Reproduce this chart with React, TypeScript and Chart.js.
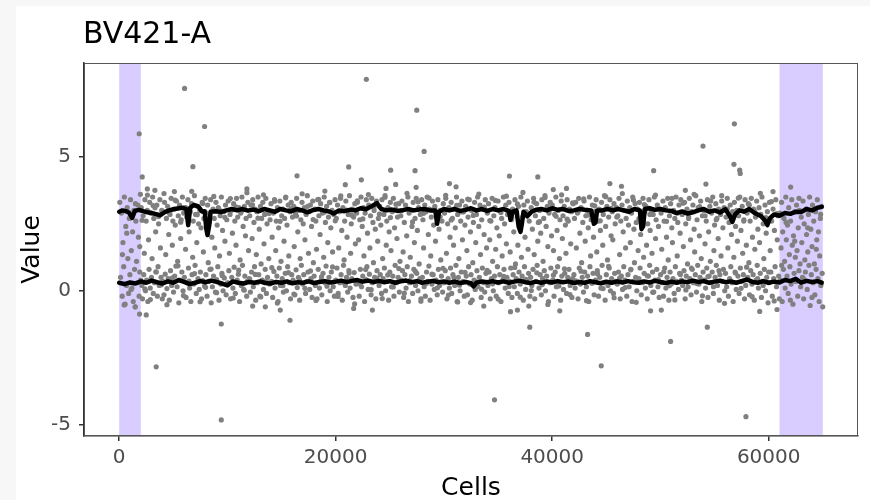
import React, { useEffect, useRef } from "react";
import { Chart, registerables } from "chart.js";

Chart.register(...registerables);

const titleText = "BV421-A";
const xAxisLabel = "Cells";
const yAxisLabel = "Value";
const xTickValues = [0, 20000, 40000, 60000];
const yTickValues = [-5, 0, 5];
const bandStarts = [0, 61000];
const bandEnds = [2000, 65000];

const upperLine: [number, number][] = [
  [0,2.95],[300,3.0],[600,2.97],[900,2.92],[1200,2.72],[1450,2.98],[1800,3.02],[2200,2.97],[2600,2.93],[3000,2.9],[3400,2.86],[3800,2.82],[4200,2.93],[4600,3.0],[5000,3.04],[5400,3.07],[5800,3.1],[6200,3.05],[6380,2.45],[6560,3.1],[6900,3.2],[7300,3.15],[7650,2.96],[7900,2.97],[8050,2.3],[8160,2.08],[8300,2.4],[8450,2.95],[8900,2.97],[9400,2.94],[9900,3.0],[10400,3.05],[10900,3.0],[11400,3.05],[11900,2.99],[12400,3.03],[12900,2.97],[13400,3.05],[13900,3.0],[14400,2.95],[14900,3.05],[15400,3.0],[15900,2.97],[16400,3.05],[16900,3.0],[17400,2.93],[17900,3.01],[18400,3.05],[18900,3.0],[19400,2.96],[19800,2.88],[20300,3.0],[20800,2.97],[21300,3.02],[21800,3.0],[22300,3.08],[22800,3.04],[23300,3.15],[23800,3.27],[24200,3.05],[24700,3.0],[25200,3.03],[25700,2.98],[26200,3.01],[26700,3.05],[27200,3.0],[27700,3.03],[28200,3.05],[28700,3.0],[29200,3.0],[29370,2.5],[29550,2.95],[30000,3.05],[30500,3.0],[31000,3.05],[31500,2.98],[32000,3.02],[32500,3.08],[33000,3.0],[33500,3.05],[34000,2.98],[34500,3.05],[35000,3.0],[35500,3.05],[36000,2.98],[36150,2.65],[36350,2.95],[36700,3.0],[36900,2.4],[37070,2.2],[37200,2.5],[37350,2.95],[37700,2.78],[38100,2.95],[38500,3.02],[39000,3.05],[39500,3.0],[40000,3.08],[40500,3.02],[41000,3.05],[41500,2.98],[42000,3.0],[42500,3.05],[43000,3.02],[43600,3.0],[43850,2.5],[44000,2.55],[44150,3.0],[44600,3.0],[45100,3.05],[45600,3.0],[46100,3.05],[46600,3.0],[47100,2.95],[47600,3.05],[48100,3.0],[48250,2.3],[48400,2.4],[48550,3.05],[49000,3.08],[49500,3.02],[50000,3.05],[50500,3.0],[51000,2.98],[51500,2.9],[52000,2.96],[52500,2.88],[53000,2.93],[53500,3.0],[54000,3.05],[54500,2.95],[55000,3.0],[55500,2.92],[56000,3.04],[56400,2.8],[56640,2.57],[56900,2.85],[57300,3.0],[57700,2.95],[58200,3.05],[58700,2.9],[59300,2.78],[59700,2.6],[59880,2.45],[60100,2.7],[60500,2.85],[61000,2.8],[61500,2.9],[62000,2.87],[62500,2.95],[63000,2.94],[63500,3.05],[64000,3.0],[64500,3.1],[64900,3.13]
];

const lowerLine: [number, number][] = [
  [0,0.3],[500,0.25],[1000,0.31],[1500,0.27],[2000,0.35],[2500,0.3],[3000,0.38],[3500,0.32],[4000,0.27],[4500,0.35],[5000,0.3],[5500,0.4],[6000,0.33],[6500,0.25],[7000,0.3],[7500,0.36],[8000,0.32],[8500,0.38],[9000,0.33],[9500,0.27],[10000,0.2],[10500,0.35],[11000,0.3],[11500,0.27],[12000,0.33],[12500,0.3],[13000,0.35],[13500,0.29],[14000,0.27],[14500,0.33],[15000,0.3],[15500,0.35],[16000,0.28],[16500,0.32],[17000,0.3],[17500,0.35],[18000,0.29],[18500,0.33],[19000,0.36],[19500,0.31],[20000,0.34],[20500,0.38],[21000,0.33],[21500,0.37],[22000,0.4],[22500,0.34],[23000,0.38],[23500,0.33],[24000,0.37],[24500,0.32],[25000,0.36],[25500,0.3],[26000,0.35],[26500,0.38],[27000,0.32],[27500,0.36],[28000,0.3],[28500,0.34],[29000,0.37],[29500,0.32],[30000,0.35],[30500,0.3],[31000,0.34],[31500,0.29],[32000,0.33],[32500,0.28],[32730,0.16],[33000,0.3],[33500,0.35],[34000,0.32],[34500,0.36],[35000,0.31],[35500,0.35],[36000,0.3],[36500,0.34],[37000,0.38],[37500,0.32],[38000,0.29],[38500,0.34],[39000,0.3],[39500,0.35],[40000,0.31],[40500,0.36],[41000,0.32],[41500,0.35],[42000,0.29],[42500,0.33],[43000,0.3],[43500,0.36],[44000,0.32],[44500,0.28],[45000,0.34],[45500,0.3],[46000,0.35],[46500,0.31],[47000,0.36],[47500,0.32],[48000,0.3],[48500,0.35],[49000,0.31],[49500,0.37],[50000,0.33],[50500,0.29],[51000,0.34],[51500,0.3],[52000,0.35],[52500,0.32],[53000,0.38],[53500,0.33],[54000,0.36],[54500,0.3],[55000,0.34],[55500,0.38],[56000,0.32],[56500,0.35],[57000,0.3],[57500,0.36],[58000,0.42],[58500,0.33],[59000,0.3],[59500,0.36],[60000,0.3],[60500,0.34],[61000,0.31],[61500,0.4],[62000,0.36],[62500,0.45],[63000,0.3],[63500,0.37],[64000,0.33],[64500,0.36],[64900,0.3]
];

const cellPoints: [number, number][] = [
  [60,3.3],[130,0.5],[210,2.9],[280,-0.2],[350,1.8],[420,0.9],[480,3.5],[550,-0.5],[610,2.4],[680,0.2],[740,3.1],[800,1.2],[870,-0.1],[930,2.7],[990,0.6],[1050,3.4],[1120,1.5],[1180,0.1],[1240,2.2],[1300,-0.4],[1360,3.0],[1420,0.8],[1480,-0.6],[1540,2.6],[1600,1.1],[1660,0.3],[1720,3.2],[1780,2.0],[1840,-0.2],[1900,0.7],[1960,3.6],[1990,0.4],
  [2040,3.1],[2100,0.2],[2150,-0.3],[2210,2.8],[2270,0.6],[2320,1.4],[2380,3.4],[2430,0.0],[2490,2.6],[2540,0.4],[2600,3.0],[2650,-0.4],[2710,1.9],[2760,0.8],[2820,3.3],[2870,0.1],[2930,2.9],[2980,0.5],[3040,1.2],[3090,3.5],[3150,-0.1],[3200,2.7],[3260,0.3],[3310,3.1],[3370,2.2],[3420,0.7],[3480,3.2],[3530,-0.2],[3590,0.9],[3640,2.5],[3700,0.2],[3760,3.4],[3810,1.6],[3870,0.5],[3930,3.0],[3980,-0.3],
  [4030,0.35],[4080,2.95],[4140,-0.15],[4190,3.3],[4250,0.62],[4300,1.35],[4360,2.7],[4410,0.08],[4470,3.15],[4520,0.45],[4580,2.1],[4630,-0.35],[4690,2.85],[4740,0.75],[4800,3.45],[4850,0.2],[4910,1.7],[4960,2.6],[5020,-0.05],[5070,3.05],[5130,0.55],[5180,2.45],[5240,0.92],[5290,3.35],[5350,0.15],[5400,1.1],[5460,2.8],[5510,-0.45],[5570,3.2],[5620,0.4],[5680,1.95],[5730,2.65],[5790,0.7],[5840,3.5],[5900,0.0],[5960,2.9],
  [6020,0.5],[6070,3.1],[6130,1.55],[6180,-0.25],[6240,2.75],[6290,0.3],[6350,3.4],[6400,0.85],[6460,2.2],[6510,0.1],[6570,2.95],[6620,-0.4],[6680,3.25],[6730,0.6],[6790,1.25],[6840,2.6],[6900,0.25],[6950,3.55],[7010,0.95],[7060,2.85],[7120,-0.1],[7170,1.8],[7230,3.15],[7280,0.45],[7340,2.5],[7390,0.05],[7450,3.0],[7500,0.7],[7560,2.35],[7610,-0.3],[7670,3.3],[7720,0.38],[7780,1.45],[7830,2.7],[7890,0.18],[7950,3.45],
  [8010,0.6],[8060,2.9],[8120,-0.2],[8170,3.2],[8230,1.05],[8280,0.35],[8340,2.55],[8390,0.8],[8450,3.4],[8500,-0.45],[8560,2.0],[8610,0.15],[8670,3.05],[8720,0.55],[8780,2.7],[8830,1.6],[8890,-0.05],[8940,3.3],[9000,0.42],[9050,2.45],[9110,0.9],[9160,3.1],[9220,-0.35],[9270,1.3],[9330,2.8],[9380,0.25],[9440,3.5],[9490,0.65],[9550,2.25],[9600,0.0],[9660,2.95],[9710,0.48],[9770,1.85],[9820,3.2],[9880,-0.15],[9940,2.65],
  [10020,0.3],[10070,3.35],[10130,0.75],[10180,1.4],[10240,2.85],[10290,-0.3],[10350,3.0],[10400,0.5],[10460,2.15],[10510,0.1],[10570,3.25],[10620,0.88],[10680,2.6],[10730,-0.1],[10790,1.7],[10840,3.45],[10900,0.4],[10950,2.75],[11010,0.62],[11060,3.1],[11120,-0.4],[11170,1.15],[11230,2.9],[11280,0.2],[11340,3.5],[11390,0.95],[11450,2.4],[11500,0.05],[11560,3.15],[11610,0.55],[11670,2.05],[11720,2.7],[11780,-0.2],[11830,0.35],[11890,3.3],[11950,1.5],
  [12010,0.45],[12060,2.8],[12120,-0.05],[12170,3.2],[12230,0.7],[12280,1.95],[12340,3.4],[12390,0.15],[12450,2.55],[12500,0.9],[12560,3.05],[12610,-0.35],[12670,1.35],[12720,2.95],[12780,0.3],[12830,3.5],[12890,0.6],[12940,2.3],[13000,-0.2],[13050,3.15],[13110,1.0],[13160,2.7],[13220,0.4],[13270,3.3],[13330,0.05],[13380,1.75],[13440,2.85],[13490,0.8],[13550,3.45],[13600,-0.1],[13660,2.5],[13710,0.5],[13770,3.0],[13820,1.2],[13880,0.25],[13940,2.65],
  [14020,3.25],[14070,0.35],[14130,2.0],[14180,-0.25],[14240,2.9],[14290,0.72],[14350,3.4],[14400,0.1],[14460,1.5],[14510,2.6],[14570,0.55],[14620,3.1],[14680,-0.4],[14730,2.35],[14790,0.85],[14840,3.35],[14900,0.2],[14950,1.1],[15010,2.8],[15060,0.45],[15120,3.05],[15170,-0.05],[15230,1.85],[15280,2.7],[15340,0.65],[15390,3.5],[15450,0.0],[15500,2.45],[15560,0.9],[15610,3.2],[15670,1.3],[15720,0.3],[15780,2.95],[15830,-0.3],[15890,3.3],[15940,0.6],
  [16010,2.75],[16060,0.4],[16120,3.15],[16170,1.65],[16230,-0.15],[16280,2.9],[16340,0.78],[16390,3.45],[16450,0.12],[16500,2.2],[16560,0.5],[16610,3.0],[16670,-0.35],[16720,1.2],[16780,2.65],[16830,0.95],[16890,3.3],[16940,0.25],[17000,2.5],[17050,0.6],[17110,3.1],[17160,1.9],[17220,-0.1],[17270,2.85],[17330,0.35],[17380,3.55],[17440,0.7],[17490,1.4],[17550,2.95],[17600,0.05],[17660,3.2],[17710,0.45],[17770,2.4],[17820,-0.25],[17880,3.35],[17940,1.05],
  [18010,0.55],[18060,3.05],[18120,0.2],[18170,2.6],[18230,1.55],[18280,-0.3],[18340,3.4],[18390,0.8],[18450,2.8],[18500,0.1],[18560,2.1],[18610,3.25],[18670,0.4],[18720,-0.15],[18780,2.9],[18830,0.65],[18890,1.25],[18940,3.5],[19000,0.3],[19050,2.55],[19110,0.92],[19160,3.15],[19220,-0.4],[19270,1.8],[19330,2.75],[19380,0.5],[19440,3.3],[19490,0.0],[19550,2.35],[19600,0.7],[19660,3.0],[19710,1.45],[19770,0.15],[19820,2.85],[19880,-0.2],[19940,3.4],
  [20010,0.4],[20060,2.7],[20120,0.85],[20170,3.2],[20230,-0.1],[20280,1.6],[20340,2.95],[20390,0.3],[20450,3.45],[20500,0.6],[20560,2.25],[20610,-0.35],[20670,3.1],[20720,0.95],[20780,1.15],[20830,2.6],[20890,0.2],[20940,3.35],[21000,0.5],[21050,2.0],[21110,-0.05],[21160,2.85],[21220,0.75],[21270,3.55],[21330,0.1],[21380,1.4],[21440,2.5],[21490,0.45],[21550,3.05],[21600,-0.25],[21660,2.75],[21710,0.68],[21770,3.25],[21820,1.75],[21880,0.25],[21940,2.9],
  [22010,3.3],[22060,0.35],[22120,1.9],[22170,-0.2],[22230,2.65],[22280,0.8],[22340,3.5],[22390,0.15],[22450,2.4],[22500,0.55],[22560,3.1],[22610,1.3],[22670,-0.4],[22720,2.9],[22780,0.42],[22830,3.4],[22890,0.9],[22940,2.15],[23000,0.05],[23050,3.2],[23110,0.62],[23160,1.6],[23220,2.8],[23270,-0.15],[23330,3.45],[23380,0.3],[23440,2.55],[23490,1.05],[23550,3.0],[23600,0.5],[23660,2.3],[23710,-0.3],[23770,3.35],[23820,0.75],[23880,1.85],[23940,2.7],
  [24010,0.2],[24060,3.15],[24120,0.6],[24170,2.45],[24230,-0.1],[24280,3.4],[24340,1.2],[24390,0.45],[24450,2.85],[24500,0.85],[24560,3.55],[24610,0.0],[24670,1.7],[24720,2.6],[24780,0.35],[24830,3.1],[24890,-0.35],[24940,2.2],[25000,0.7],[25050,3.3],[25110,1.5],[25160,0.15],[25220,2.95],[25270,0.55],[25330,3.45],[25380,-0.2],[25440,2.35],[25490,0.95],[25550,3.05],[25600,0.3],[25660,1.95],[25710,2.75],[25770,0.5],[25820,3.25],[25880,-0.05],[25940,1.1],
  [26010,2.8],[26060,0.4],[26120,3.35],[26170,0.75],[26230,1.45],[26280,-0.25],[26340,2.55],[26390,0.6],[26450,3.2],[26500,0.1],[26560,2.05],[26610,0.9],[26670,3.5],[26720,-0.4],[26780,2.9],[26830,0.3],[26890,1.25],[26940,3.0],[27000,0.55],[27050,2.4],[27110,-0.1],[27160,3.3],[27220,0.8],[27270,1.8],[27330,2.7],[27380,0.2],[27440,3.45],[27490,0.65],[27550,2.25],[27600,0.0],[27660,3.1],[27710,1.0],[27770,0.45],[27820,2.85],[27880,-0.3],[27940,3.4],
  [28010,0.5],[28060,2.65],[28120,1.6],[28170,0.15],[28230,3.2],[28280,-0.2],[28340,2.95],[28390,0.7],[28450,3.5],[28500,0.35],[28560,2.1],[28610,0.92],[28670,3.05],[28720,-0.35],[28780,1.3],[28830,2.75],[28890,0.25],[28940,3.35],[29000,0.6],[29050,2.45],[29110,0.05],[29160,3.15],[29220,1.85],[29270,0.4],[29330,2.8],[29380,-0.15],[29440,3.4],[29490,0.8],[29550,2.3],[29600,0.2],[29660,3.0],[29710,1.15],[29770,0.55],[29820,2.6],[29880,-0.05],[29940,3.25],
  [30010,0.3],[30060,2.9],[30120,0.75],[30170,3.45],[30230,1.4],[30280,-0.3],[30340,2.5],[30390,0.45],[30450,3.1],[30500,0.1],[30560,2.0],[30610,0.85],[30670,3.3],[30720,-0.1],[30780,2.7],[30830,0.6],[30890,1.7],[30940,3.05],[31000,0.2],[31050,2.35],[31110,0.95],[31160,3.5],[31220,-0.4],[31270,2.85],[31330,0.5],[31380,1.2],[31440,3.2],[31490,0.0],[31550,2.6],[31600,0.7],[31660,3.35],[31710,1.9],[31770,0.35],[31820,2.95],[31880,-0.2],[31940,2.45],
  [32010,3.15],[32060,0.55],[32120,1.5],[32170,-0.15],[32230,2.75],[32280,0.9],[32340,3.4],[32390,0.25],[32450,2.2],[32500,0.6],[32560,3.0],[32610,-0.35],[32670,1.05],[32720,2.55],[32780,0.4],[32830,3.3],[32890,0.05],[32940,1.8],[33000,2.85],[33050,0.75],[33110,3.5],[33160,0.15],[33220,2.4],[33270,0.5],[33330,3.2],[33380,1.35],[33440,-0.25],[33490,2.65],[33550,0.85],[33600,3.05],[33660,0.3],[33710,2.1],[33770,-0.05],[33820,3.4],[33880,0.65],[33940,1.6],
  [34010,2.9],[34060,0.2],[34120,3.25],[34170,0.7],[34230,1.9],[34280,-0.3],[34340,2.6],[34390,0.45],[34450,3.45],[34500,1.1],[34560,0.0],[34610,2.8],[34670,0.55],[34720,3.1],[34780,1.55],[34830,-0.2],[34890,2.35],[34940,0.9],[35000,3.35],[35050,0.3],[35110,2.05],[35160,0.6],[35220,3.0],[35270,-0.4],[35330,2.7],[35380,1.3],[35440,0.4],[35490,3.5],[35550,0.8],[35600,2.5],[35660,0.1],[35710,3.2],[35770,1.75],[35820,0.5],[35880,2.85],[35940,-0.1],
  [36010,3.3],[36060,0.35],[36120,1.45],[36170,0.85],[36230,2.65],[36280,-0.25],[36340,3.05],[36390,0.6],[36450,2.2],[36500,0.15],[36560,3.4],[36610,1.0],[36670,0.45],[36720,2.9],[36780,-0.1],[36830,1.7],[36890,3.15],[36940,0.7],[37000,2.45],[37050,0.25],[37110,3.5],[37160,1.25],[37220,0.55],[37270,2.75],[37330,-0.35],[37380,3.2],[37440,0.9],[37490,2.0],[37550,0.05],[37600,2.95],[37660,0.4],[37710,3.35],[37770,1.55],[37820,0.65],[37880,2.6],[37940,-0.2],
  [38010,0.5],[38060,3.1],[38120,0.2],[38170,2.3],[38230,0.8],[38280,3.45],[38340,1.35],[38390,-0.3],[38450,2.8],[38500,0.35],[38560,3.25],[38610,0.95],[38670,1.85],[38720,2.55],[38780,0.1],[38830,3.0],[38890,0.6],[38940,2.15],[39000,-0.15],[39050,3.4],[39110,0.45],[39160,1.1],[39220,2.7],[39270,0.75],[39330,3.55],[39380,0.0],[39440,2.4],[39490,0.55],[39550,3.15],[39600,1.65],[39660,-0.4],[39710,2.9],[39770,0.3],[39820,3.3],[39880,0.85],[39940,2.05],
  [40010,3.2],[40060,0.4],[40120,1.5],[40170,-0.2],[40230,2.85],[40280,0.7],[40340,3.5],[40390,0.15],[40450,2.25],[40500,0.9],[40560,3.0],[40610,0.3],[40670,1.2],[40720,2.65],[40780,-0.35],[40830,3.35],[40890,0.55],[40940,1.95],[41000,2.8],[41050,0.05],[41110,3.15],[41160,0.65],[41220,2.45],[41270,1.4],[41330,-0.1],[41380,3.4],[41440,0.5],[41490,2.6],[41550,0.8],[41600,3.05],[41660,0.2],[41710,1.75],[41770,2.95],[41820,-0.25],[41880,0.45],[41940,3.25],
  [42010,0.6],[42060,2.7],[42120,0.1],[42170,3.3],[42230,1.6],[42280,0.35],[42340,2.9],[42390,-0.3],[42450,3.45],[42500,0.85],[42560,2.15],[42610,0.25],[42670,3.1],[42720,1.05],[42780,0.5],[42830,2.55],[42890,-0.05],[42940,3.35],[43000,0.7],[43050,1.85],[43110,2.8],[43160,0.15],[43220,3.0],[43270,0.55],[43330,2.35],[43380,-0.4],[43440,3.5],[43490,0.9],[43550,1.3],[43600,2.65],[43660,0.3],[43710,3.2],[43770,0.65],[43820,2.0],[43880,-0.15],[43940,2.95],
  [44010,0.4],[44060,3.4],[44120,1.45],[44170,0.75],[44230,2.6],[44280,-0.2],[44340,3.05],[44390,0.5],[44450,2.25],[44500,0.1],[44560,3.3],[44610,0.95],[44670,1.7],[44720,2.85],[44780,0.3],[44830,3.55],[44890,-0.35],[44940,2.4],[45000,0.6],[45050,3.15],[45110,1.15],[45160,0.2],[45220,2.75],[45270,0.85],[45330,3.4],[45380,0.0],[45440,2.05],[45490,0.45],[45550,2.95],[45600,1.9],[45660,-0.1],[45710,3.25],[45770,0.65],[45820,2.5],[45880,0.35],[45940,3.1],
  [46010,0.25],[46060,2.8],[46120,0.7],[46170,3.45],[46230,1.35],[46280,-0.3],[46340,2.6],[46390,0.55],[46450,3.2],[46500,0.05],[46560,2.2],[46610,0.9],[46670,3.0],[46720,0.4],[46780,1.6],[46830,2.7],[46890,-0.2],[46940,3.35],[47000,0.6],[47050,2.45],[47110,0.15],[47160,3.1],[47220,1.8],[47270,0.8],[47330,2.9],[47380,-0.4],[47440,3.5],[47490,0.35],[47550,2.3],[47600,1.05],[47660,3.25],[47710,0.5],[47770,2.55],[47820,0.0],[47880,3.05],[47940,1.5],
  [48010,0.45],[48060,3.3],[48120,0.85],[48170,2.1],[48230,-0.15],[48280,2.75],[48340,0.3],[48390,3.45],[48450,1.25],[48500,0.65],[48560,2.95],[48610,0.1],[48670,3.15],[48720,1.7],[48780,-0.3],[48830,2.5],[48890,0.55],[48940,3.4],[49000,0.95],[49050,2.25],[49110,0.2],[49160,3.0],[49220,1.4],[49270,0.7],[49330,2.85],[49380,-0.05],[49440,3.5],[49490,0.4],[49550,1.95],[49600,2.65],[49660,0.8],[49710,3.2],[49770,0.15],[49820,2.4],[49880,-0.25],[49940,3.05],
  [50010,0.6],[50060,2.9],[50120,1.55],[50170,0.3],[50230,3.35],[50280,-0.2],[50340,2.6],[50390,0.85],[50450,3.1],[50500,0.1],[50560,2.0],[50610,0.5],[50670,3.45],[50720,1.15],[50780,-0.35],[50830,2.8],[50890,0.7],[50940,3.25],[51000,0.25],[51050,2.35],[51110,1.8],[51160,0.45],[51220,3.0],[51270,-0.1],[51330,2.7],[51380,0.9],[51440,3.5],[51490,0.35],[51550,1.3],[51600,2.55],[51660,0.05],[51710,3.2],[51770,0.65],[51820,2.15],[51880,3.4],[51940,0.4],
  [52010,2.85],[52060,0.2],[52120,1.65],[52170,0.75],[52230,3.3],[52280,-0.3],[52340,2.5],[52390,0.55],[52450,3.05],[52500,1.0],[52560,0.15],[52610,2.75],[52670,3.45],[52720,0.45],[52780,1.9],[52830,-0.15],[52890,2.95],[52940,0.8],[53000,3.2],[53050,0.3],[53110,2.3],[53160,1.45],[53220,0.6],[53270,3.55],[53330,-0.05],[53380,2.65],[53440,0.95],[53490,3.1],[53550,0.25],[53600,2.05],[53660,0.5],[53710,3.35],[53770,1.2],[53820,-0.4],[53880,2.8],[53940,0.7],
  [54010,3.0],[54060,0.4],[54120,1.75],[54170,0.1],[54230,2.6],[54280,0.85],[54340,3.4],[54390,-0.25],[54450,2.2],[54500,0.55],[54560,3.15],[54610,1.1],[54670,0.3],[54720,2.9],[54780,0.7],[54830,3.5],[54890,-0.1],[54940,1.5],[55000,2.45],[55050,0.5],[55110,3.25],[55160,0.95],[55220,2.7],[55270,0.2],[55330,1.95],[55380,3.05],[55440,-0.35],[55490,0.6],[55550,2.85],[55600,1.3],[55660,3.35],[55710,0.35],[55770,2.35],[55820,0.8],[55880,3.1],[55940,0.0],
  [56010,0.65],[56060,2.75],[56120,0.15],[56170,3.45],[56230,1.6],[56280,-0.2],[56340,2.55],[56390,0.45],[56450,3.2],[56500,0.9],[56560,2.1],[56610,0.3],[56670,2.95],[56720,-0.4],[56780,1.25],[56830,3.3],[56890,0.7],[56940,2.4],[57000,0.05],[57050,3.0],[57110,1.85],[57160,0.55],[57220,2.8],[57270,-0.1],[57330,3.5],[57380,0.85],[57440,2.25],[57490,0.35],[57550,3.15],[57600,1.4],[57660,0.6],[57710,2.65],[57770,-0.3],[57820,3.4],[57880,0.2],[57940,1.7],
  [58010,2.9],[58060,0.5],[58120,3.25],[58170,1.05],[58230,-0.15],[58280,2.6],[58340,0.75],[58390,3.45],[58450,0.25],[58500,2.0],[58560,0.6],[58610,3.05],[58670,-0.35],[58720,1.55],[58780,2.75],[58830,0.4],[58890,3.35],[58940,0.95],[59000,2.3],[59050,0.1],[59110,3.1],[59160,1.8],[59220,0.65],[59270,2.85],[59330,-0.25],[59380,3.5],[59440,0.35],[59490,2.5],[59550,1.2],[59600,0.8],[59660,3.2],[59710,0.0],[59770,2.15],[59820,0.5],[59880,2.95],[59940,-0.45],
  [60010,0.3],[60070,3.3],[60140,1.5],[60200,0.7],[60270,2.6],[60330,-0.2],[60400,3.05],[60460,0.45],[60530,2.25],[60590,0.9],[60660,3.4],[60720,0.15],[60790,1.9],[60850,2.8],[60920,0.55],[60980,-0.3],
  [61030,2.9],[61080,0.4],[61140,1.6],[61190,3.3],[61250,-0.4],[61300,2.2],[61360,0.8],[61410,2.7],[61470,1.1],[61520,0.1],[61580,3.5],[61630,1.9],[61690,0.55],[61740,2.45],[61800,-0.1],[61850,3.1],[61910,1.35],[61960,0.9],[62020,2.6],[62070,0.25],[62130,3.4],[62180,1.7],[62240,-0.5],[62290,2.05],[62350,0.65],[62400,2.95],[62460,1.25],[62510,0.35],[62570,3.2],[62620,1.5],[62680,-0.2],[62730,2.35],[62790,0.75],[62840,3.0],[62900,1.0],[62950,0.15],
  [63010,2.75],[63060,1.8],[63120,0.5],[63170,3.35],[63230,-0.3],[63280,2.5],[63340,1.15],[63390,0.7],[63450,3.05],[63500,2.1],[63560,0.05],[63610,1.45],[63670,2.85],[63720,0.95],[63780,3.5],[63830,-0.55],[63890,2.3],[63940,0.6],[64000,1.65],[64050,3.2],[64110,0.3],[64160,2.6],[64220,1.0],[64270,-0.15],[64330,2.95],[64380,0.8],[64440,1.9],[64490,3.4],[64550,0.45],[64600,2.2],[64660,-0.4],[64710,1.3],[64770,2.7],[64820,0.2],[64880,3.15],[64940,0.65],[64990,-0.6]
];

const bandFillPoints: [number, number][] = [
  [300,1.35],[700,2.15],[1100,0.05],[1500,3.25],[1900,1.65],
  [2120,2.63],[2370,0.07],[2610,3.57],[2880,-0.33],[3130,3.18],[3390,0.71],[3640,2.77],[3900,0.22],[4140,3.63],[4410,-0.52],[4660,2.91],[4920,0.48],[5170,3.38],[5430,0.93],[5680,2.56],[5940,-0.18],[6190,3.09],[6450,0.36],[6700,3.71],[6960,0.64],[7210,2.84],[7470,-0.41],[7720,3.26],[7980,0.13],[8230,2.69],[8490,0.81],[8740,3.52],[9000,-0.07],[9250,3.03],[9510,0.57],[9760,2.74],[10020,0.29],[10270,3.44],[10530,-0.27],[10780,3.13],[11040,0.77],[11290,2.97],[11550,0.02],[11800,3.66],[12060,0.44],
  [12310,3.21],[12570,0.61],[12820,2.71],[13080,-0.23],[13330,3.58],[13590,0.34],[13840,2.88],[14100,0.86],[14350,3.34],[14610,-0.46],[14860,2.59],[15120,0.19],[15370,3.47],[15630,0.68],[15880,3.06],[16140,-0.12],[16390,2.79],[16650,0.41],[16900,3.62],[17160,0.09],[17410,3.15],[17670,0.74],[17920,2.66],[18180,-0.36],[18430,3.41],[18690,0.52],[18940,2.93],[19200,0.17],[19450,3.29],[19710,0.89],[19960,2.61],[20220,-0.21],[20470,3.54],[20730,0.31],[20980,3.01],[21240,0.66],[21490,2.82],[21750,-0.49],[22000,3.36],[22260,0.24],[22510,2.68],[22770,0.79],[23020,3.59],[23280,0.04],[23530,3.11],[23790,0.46],[24040,2.86],[24300,-0.29],[24550,3.49],[24810,0.59],[25060,2.73],[25320,0.14],[25570,3.23],[25830,0.83],[26080,2.99],[26340,-0.09],[26590,3.64],[26850,0.38],[27100,2.57],[27360,0.72],[27610,3.32],[27870,-0.39],[28120,2.89],[28380,0.27],[28630,3.46],[28890,0.62],[29140,3.07],[29400,0.11],[29650,2.76],[29910,0.84],
  [30160,3.56],[30420,-0.16],[30670,2.64],[30930,0.49],[31180,3.19],[31440,0.21],[31690,2.94],[31950,0.69],[32200,3.42],[32460,-0.44],[32710,2.81],[32970,0.33],[33220,3.61],[33480,0.06],[33730,3.12],[33990,0.76],[34240,2.62],[34500,0.26],[34750,3.37],[35010,-0.31],[35260,2.92],[35520,0.54],[35770,3.53],[36030,0.16],[36280,2.72],[36540,0.87],[36790,3.24],[37050,-0.24],[37300,3.67],[37560,0.43],[37810,2.87],[38070,0.01],[38320,3.31],[38580,0.67],[38830,2.58],[39090,0.23],[39340,3.48],[39600,-0.51],[39850,3.04],[40110,0.58],[40360,2.78],[40620,0.18],[40870,3.58],[41130,0.82],[41380,2.67],[41640,-0.14],[41890,3.28],[42150,0.37],[42400,2.96],[42660,0.73],[42910,3.43],[43170,-0.37],[43420,2.83],[43680,0.28],[43930,3.17],[44190,0.63],[44440,2.61],[44700,0.08],[44950,3.51],[45210,0.91],[45460,3.08],[45720,-0.26],[45970,2.75],[46230,0.47],[46480,3.63],[46740,0.12],[46990,2.98],[47250,0.78],[47500,3.39],[47760,-0.43],
  [48010,2.69],[48270,0.32],[48520,3.22],[48780,0.56],[49030,2.85],[49290,-0.06],[49540,3.57],[49800,0.42],[50050,3.02],[50310,0.71],[50560,2.59],[50820,0.19],[51070,3.45],[51330,-0.34],[51580,2.9],[51840,0.61],[52090,3.27],[52350,0.03],[52600,2.7],[52860,0.85],[53110,3.6],[53370,0.27],[53620,3.14],[53880,-0.19],[54130,2.8],[54390,0.53],[54640,3.35],[54900,0.15],[55150,2.65],[55410,0.75],[55660,3.55],[55920,-0.47],[56170,3.05],[56430,0.39],[56680,2.78],[56940,0.66],[57190,3.46],[57450,0.09],[57700,2.6],[57960,0.88],[58210,3.2],[58470,-0.22],[58720,2.95],[58980,0.45],[59230,3.64],[59490,0.2],[59740,2.73],[60000,0.7],[60250,3.33],[60510,-0.38],[60760,2.88],
  [61200,0.95],[61600,2.55],[62000,-0.35],[62400,1.85],[62800,3.45],[63200,0.45],[63600,2.35],[64000,-0.25],[64400,1.55],[64800,2.85]
];

const outlierPoints: [number, number][] = [
  [1850,5.86],[2130,4.25],[6040,7.55],[7890,6.13],[6810,4.63],[16430,4.29],[3420,-2.84],[9430,-4.82],[9430,-1.24],[15780,-1.1],[1880,-0.87],[2500,-0.9],[460,-0.53],[1480,-0.6],[14880,-0.72],[23390,-0.72],[21660,-0.66],[13500,-0.6],[12330,-0.57],[31270,-0.42],
  [22830,7.89],[27490,6.74],[28170,5.2],[21200,4.62],[22370,4.14],[25080,4.5],[27330,4.48],[38670,4.25],[25540,3.97],[24650,3.82],[27430,3.86],[20890,3.96],[30510,4.0],[31120,3.88],[41320,3.82],[36050,4.28],
  [34670,-4.07],[37930,-1.36],[43270,-1.63],[44530,-2.8],[50940,-1.89],[54330,-1.36],[57900,-4.7],[33680,-0.57],[36150,-0.78],[36790,-0.72],[40700,-0.75],[49090,-0.75],[50080,-0.72],[59170,-0.77],[60770,-0.7],[37840,-0.57],
  [56830,6.23],[53930,5.4],[49370,4.48],[56790,4.72],[57320,4.5],[57370,4.38],[62030,3.87],[45330,4.0],[46400,3.9],[54200,3.98],[2600,3.8],[3300,3.75],[5100,3.7],[11800,3.8],[19000,3.72],[40100,3.78],[52300,3.75],[60400,3.7]
];

const FONT = "'DejaVu Sans', sans-serif";

export default function App() {
  const canvasRef = useRef<HTMLCanvasElement | null>(null);

  useEffect(() => {
    const canvas = canvasRef.current;
    if (!canvas) return;

    const bandPlugin = {
      id: "bands",
      beforeDatasetsDraw(chart: any) {
        const { ctx, chartArea, scales } = chart;
        ctx.save();
        ctx.fillStyle = "#D9CCFF";
        for (let i = 0; i < bandStarts.length; i++) {
          const x0 = scales.x.getPixelForValue(bandStarts[i]);
          const x1 = scales.x.getPixelForValue(bandEnds[i]);
          ctx.fillRect(x0, chartArea.top, x1 - x0, chartArea.bottom - chartArea.top);
        }
        ctx.restore();
      },
      afterDraw(chart: any) {
        const { ctx, chartArea } = chart;
        ctx.save();
        ctx.strokeStyle = "#555555";
        ctx.lineWidth = 1;
        ctx.strokeRect(chartArea.left + 0.5, chartArea.top + 0.5, chartArea.right - chartArea.left - 1, chartArea.bottom - chartArea.top - 1);
        ctx.fillStyle = "#000000";
        ctx.textBaseline = "alphabetic";
        ctx.textAlign = "left";
        ctx.font = `30px ${FONT}`;
        ctx.fillText(titleText, 67, 37);
        ctx.textAlign = "center";
        ctx.font = `25px ${FONT}`;
        ctx.fillText(xAxisLabel, (chartArea.left + chartArea.right) / 2, 489);
        ctx.translate(23, (chartArea.top + chartArea.bottom) / 2);
        ctx.rotate(-Math.PI / 2);
        ctx.fillText(yAxisLabel, 0, 0);
        ctx.restore();
      },
    };

    const lineStyle = {
      type: "line",
      borderColor: "#000000",
      borderWidth: 4.5,
      pointRadius: 0,
      fill: false,
      tension: 0,
      borderJoinStyle: "round",
      borderCapStyle: "round",
    };

    const chart = new Chart(canvas, {
      type: "scatter",
      data: {
        datasets: [
          { ...lineStyle, data: upperLine.map(([x, y]) => ({ x, y })), order: 0 } as any,
          { ...lineStyle, data: lowerLine.map(([x, y]) => ({ x, y })), order: 1 } as any,
          {
            data: cellPoints.concat(bandFillPoints, outlierPoints).map(([x, y]) => ({ x, y })),
            backgroundColor: "#808080",
            borderWidth: 0,
            pointRadius: 2.6,
            order: 2,
          },
        ],
      },
      options: {
        responsive: false,
        animation: false,
        devicePixelRatio: 1,
        layout: { padding: { top: 57, right: 12, left: 0, bottom: 0 } },
        plugins: {
          legend: { display: false },
          tooltip: { enabled: false },
          title: { display: false },
        },
        scales: {
          x: {
            type: "linear",
            min: -3250,
            max: 68250,
            afterBuildTicks: (s: any) => {
              s.ticks = xTickValues.map((v) => ({ value: v }));
            },
            afterFit: (s: any) => {
              s.height = 64;
            },
            ticks: {
              color: "#4d4d4d",
              font: { size: 20, family: FONT },
              padding: 5,
              maxRotation: 0,
              autoSkip: false,
              callback: (v: any) => String(v),
            },
            grid: { drawOnChartArea: false, drawTicks: true, tickLength: 5, color: "#333333", lineWidth: 1.5 },
            border: { display: true, color: "#333333", width: 1.5 },
          },
          y: {
            type: "linear",
            min: -5.42,
            max: 8.5,
            afterBuildTicks: (s: any) => {
              s.ticks = yTickValues.map((v) => ({ value: v }));
            },
            afterFit: (s: any) => {
              s.width = 68;
            },
            ticks: {
              color: "#4d4d4d",
              font: { size: 20, family: FONT },
              padding: 8,
              autoSkip: false,
              callback: (v: any) => String(v),
            },
            grid: { drawOnChartArea: false, drawTicks: true, tickLength: 5, color: "#333333", lineWidth: 1.5 },
            border: { display: true, color: "#333333", width: 1.5 },
          },
        },
      },
      plugins: [bandPlugin],
    } as any);

    return () => {
      chart.destroy();
    };
  }, []);

  return (
    <div style={{ position: "fixed", left: 0, top: 0, width: 870, height: 500, background: "#f7f7f7" }}>
      <div style={{ position: "absolute", left: 16, top: 6, width: 854, height: 494, background: "#ffffff" }}>
        <canvas ref={canvasRef} width={854} height={494} style={{ display: "block", width: 854, height: 494 }} />
      </div>
    </div>
  );
}
